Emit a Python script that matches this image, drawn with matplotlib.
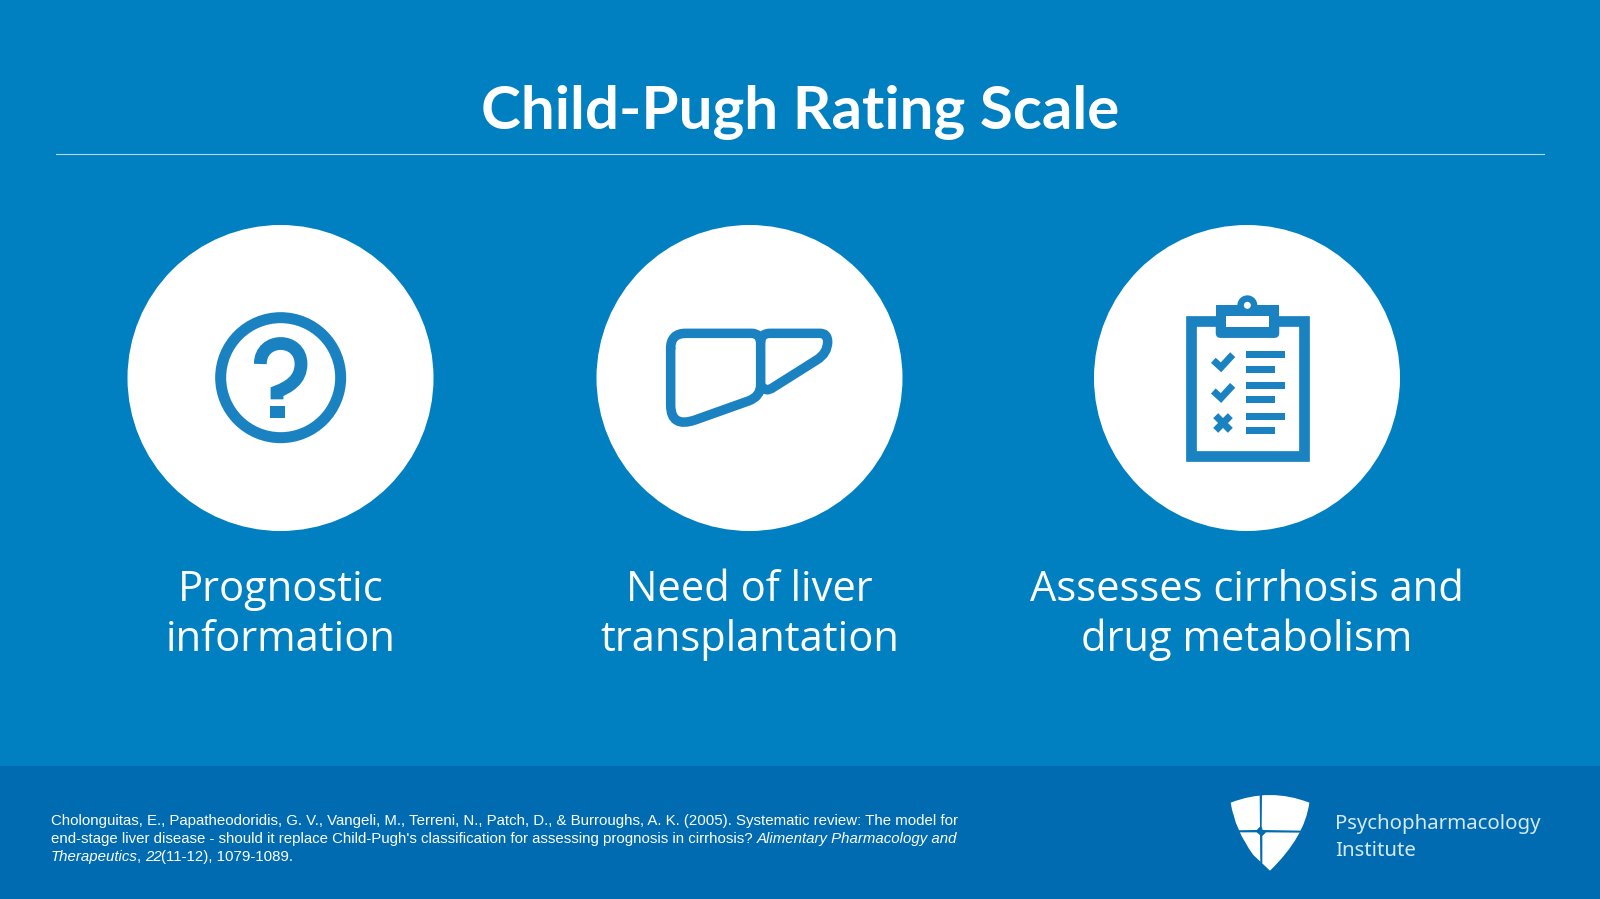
from __future__ import annotations

import matplotlib

matplotlib.use("Agg")
import matplotlib.pyplot as plt
from matplotlib.patches import Circle, FancyBboxPatch, PathPatch, Polygon, Rectangle
from matplotlib.path import Path

WIDTH, HEIGHT = 1600, 899
PX = 0.72  # one pixel in points at dpi 100

BLUE = "#0080c0"
FOOTER = "#006bb1"
ICON = "#1b82c1"
WHITE = "#ffffff"

TITLE = "Child-Pugh Rating Scale"
CIRCLE_X = [280.5, 749.5, 1247]
LABELS = [
    "Prognostic\ninformation",
    "Need of liver\ntransplantation",
    "Assesses cirrhosis and\ndrug metabolism",
]
CITATION = [
    [("Cholonguitas, E., Papatheodoridis, G. V., Vangeli, M., Terreni, N., Patch, D., & Burroughs, A. K. (2005). Systematic review: The model for", "normal")],
    [("end-stage liver disease - should it replace Child-Pugh's classification for assessing prognosis in cirrhosis? ", "normal"),
     ("Alimentary Pharmacology and", "italic")],
    [("Therapeutics", "italic"), (", ", "normal"), ("22", "italic"), ("(11-12), 1079-1089.", "normal")],
]
LOGO_TEXT = ["Psychopharmacology", "Institute"]


def stroke(ax, verts, codes=None, lw=10.0, color=ICON, **kwargs):
    path = Path(verts, codes) if codes else Path(verts)
    ax.add_patch(PathPatch(path, fill=False, edgecolor=color, linewidth=lw * PX, **kwargs))


def draw_question(ax):
    # crop coords are 3x, origin at the zoom corner
    z = lambda x, y: (180 + x / 3, 280 + y / 3)
    ax.add_patch(Circle(z(302, 293), 60, fill=False, edgecolor=ICON, linewidth=11 * PX))
    verts = [z(241, 252), z(241, 170), z(363, 170), z(363, 252),
             z(363, 300), z(325, 322), z(291, 335), z(291, 358)]
    codes = [Path.MOVETO, Path.CURVE4, Path.CURVE4, Path.CURVE4,
             Path.CURVE4, Path.CURVE4, Path.CURVE4, Path.LINETO]
    stroke(ax, verts, codes, lw=12.8, capstyle="butt", joinstyle="miter")
    x0, y0 = z(271, 378)
    ax.add_patch(Rectangle((x0, y0), 44 / 3, 36 / 3, color=ICON, lw=0))


def draw_liver(ax):
    z = lambda x, y: (640 + x / 3, 300 + y / 3)
    m, c, l = Path.MOVETO, Path.CURVE3, Path.LINETO
    left = [(92, 145, m), (92, 100, c), (137, 100, c), (335, 100, l), (362, 100, c), (362, 130, c),
            (362, 255, l), (362, 290, c), (325, 303, c), (165, 360, l), (92, 385, c), (92, 315, c), (92, 145, l)]
    right = [(362, 125, m), (362, 100, c), (390, 100, c), (540, 100, l), (563, 100, c), (563, 125, c),
             (563, 160, c), (530, 180, c), (400, 262, l), (375, 280, c), (362, 255, c)]
    for part in (left, right):
        stroke(ax, [z(x, y) for x, y, _ in part], [k for _, _, k in part], lw=9.5,
               capstyle="round", joinstyle="round")


def draw_clipboard(ax):
    z = lambda x, y: (1160 + x / 3, 280 + y / 3)
    x0, y0 = z(92, 124)
    ax.add_patch(Rectangle((x0, y0), 341 / 3, 403 / 3, fill=False, edgecolor=ICON,
                           linewidth=10.7 * PX, joinstyle="miter"))
    ax.add_patch(Circle(z(262, 76), 10, color=ICON, lw=0))
    ax.add_patch(Circle(z(262, 76), 3.5, color=WHITE, lw=0, zorder=4))
    x0, y0 = z(167, 76)
    ax.add_patch(Rectangle((x0, y0), 191 / 3, 60 / 3, color=ICON, lw=0))
    x0, y0 = z(175, 110)
    ax.add_patch(FancyBboxPatch((x0, y0), 175 / 3, 56 / 3, boxstyle="round,pad=2.6,rounding_size=5",
                                color=ICON, lw=0))
    x0, y0 = z(199, 108)
    ax.add_patch(Rectangle((x0, y0), 127 / 3, 34 / 3, color=WHITE, lw=0, zorder=4))
    for i, y in enumerate([214, 257, 306, 348, 398, 440]):
        x0, y0 = z(258, y)
        ax.add_patch(Rectangle((x0, y0), (116 if i % 2 == 0 else 88) / 3, 21 / 3, color=ICON, lw=0))
    for dy in (0, 92):
        stroke(ax, [z(160, 241 + dy), z(183, 262 + dy), z(218, 224 + dy)], lw=7, capstyle="butt", joinstyle="miter")
    stroke(ax, [z(167, 407), z(211, 451)], lw=7, capstyle="butt")
    stroke(ax, [z(211, 407), z(167, 451)], lw=7, capstyle="butt")


def draw_shield(ax):
    z = lambda x, y: (1210 + x / 3, 780 + y / 3)
    m, c, l = Path.MOVETO, Path.CURVE3, Path.LINETO
    outline = [(62, 68, m), (180, 22, c), (298, 68, c), (285, 170, c), (180, 272, c), (130, 225, l),
               (75, 150, c), (62, 68, c), (62, 68, l)]
    ax.add_patch(PathPatch(Path([z(x, y) for x, y, _ in outline], [k for _, _, k in outline]),
                           facecolor=WHITE, edgecolor="none"))
    ax.add_patch(Polygon([z(149, 35), z(156, 35), z(155, 140), z(158, 150), z(280, 152), z(280, 158),
                          z(168, 157), z(157, 168), z(157, 250), z(151, 250), z(150, 165), z(140, 157),
                          z(70, 157), z(70, 151), z(140, 150), z(150, 140)], color=FOOTER, lw=0))


def draw_citation(ax, fig):
    renderer = fig.canvas.get_renderer()
    for line, y in zip(CITATION, [825, 843, 861]):
        x = 51.0
        for piece, style in line:
            t = ax.text(x, y, piece, color=WHITE, fontsize=10.82, style=style,
                        family="Liberation Sans", va="baseline", ha="left")
            # trailing spaces still count towards the advance here
            x += t.get_window_extent(renderer).width - 0.5


def main() -> int:
    fig = plt.figure(figsize=(WIDTH / 100, HEIGHT / 100), dpi=100, facecolor=BLUE)
    ax = fig.add_axes([0, 0, 1, 1])
    ax.set_xlim(0, WIDTH)
    ax.set_ylim(HEIGHT, 0)
    ax.axis("off")

    ax.add_patch(Rectangle((0, 766), WIDTH, HEIGHT - 766, color=FOOTER, lw=0))
    ax.plot([56, 1544], [154.3, 154.3], color="#b5d9ee", lw=0.8)
    ax.text(800, 128.5, TITLE, color=WHITE, fontsize=43.3, family="Lato", weight="bold",
            ha="center", va="baseline")

    for x, label in zip(CIRCLE_X, LABELS):
        ax.add_patch(Circle((x, 378), 153, color=WHITE, lw=0))
        first, second = label.split("\n")
        ax.text(x, 601, first, color=WHITE, fontsize=30, family="Open Sans", ha="center", va="baseline")
        ax.text(x, 651, second, color=WHITE, fontsize=30, family="Open Sans", ha="center", va="baseline")

    draw_question(ax)
    draw_liver(ax)
    draw_clipboard(ax)
    draw_shield(ax)
    draw_citation(ax, fig)

    for text, y in zip(LOGO_TEXT, [828.5, 856]):
        ax.text(1335, y, text, color="#d5e9f6", fontsize=14.7, family="Noto Sans", weight="light",
                ha="left", va="baseline")

    fig.savefig("out.png", dpi=100, facecolor=BLUE)
    plt.close(fig)
    return 0


if __name__ == "__main__":
    raise SystemExit(main())
